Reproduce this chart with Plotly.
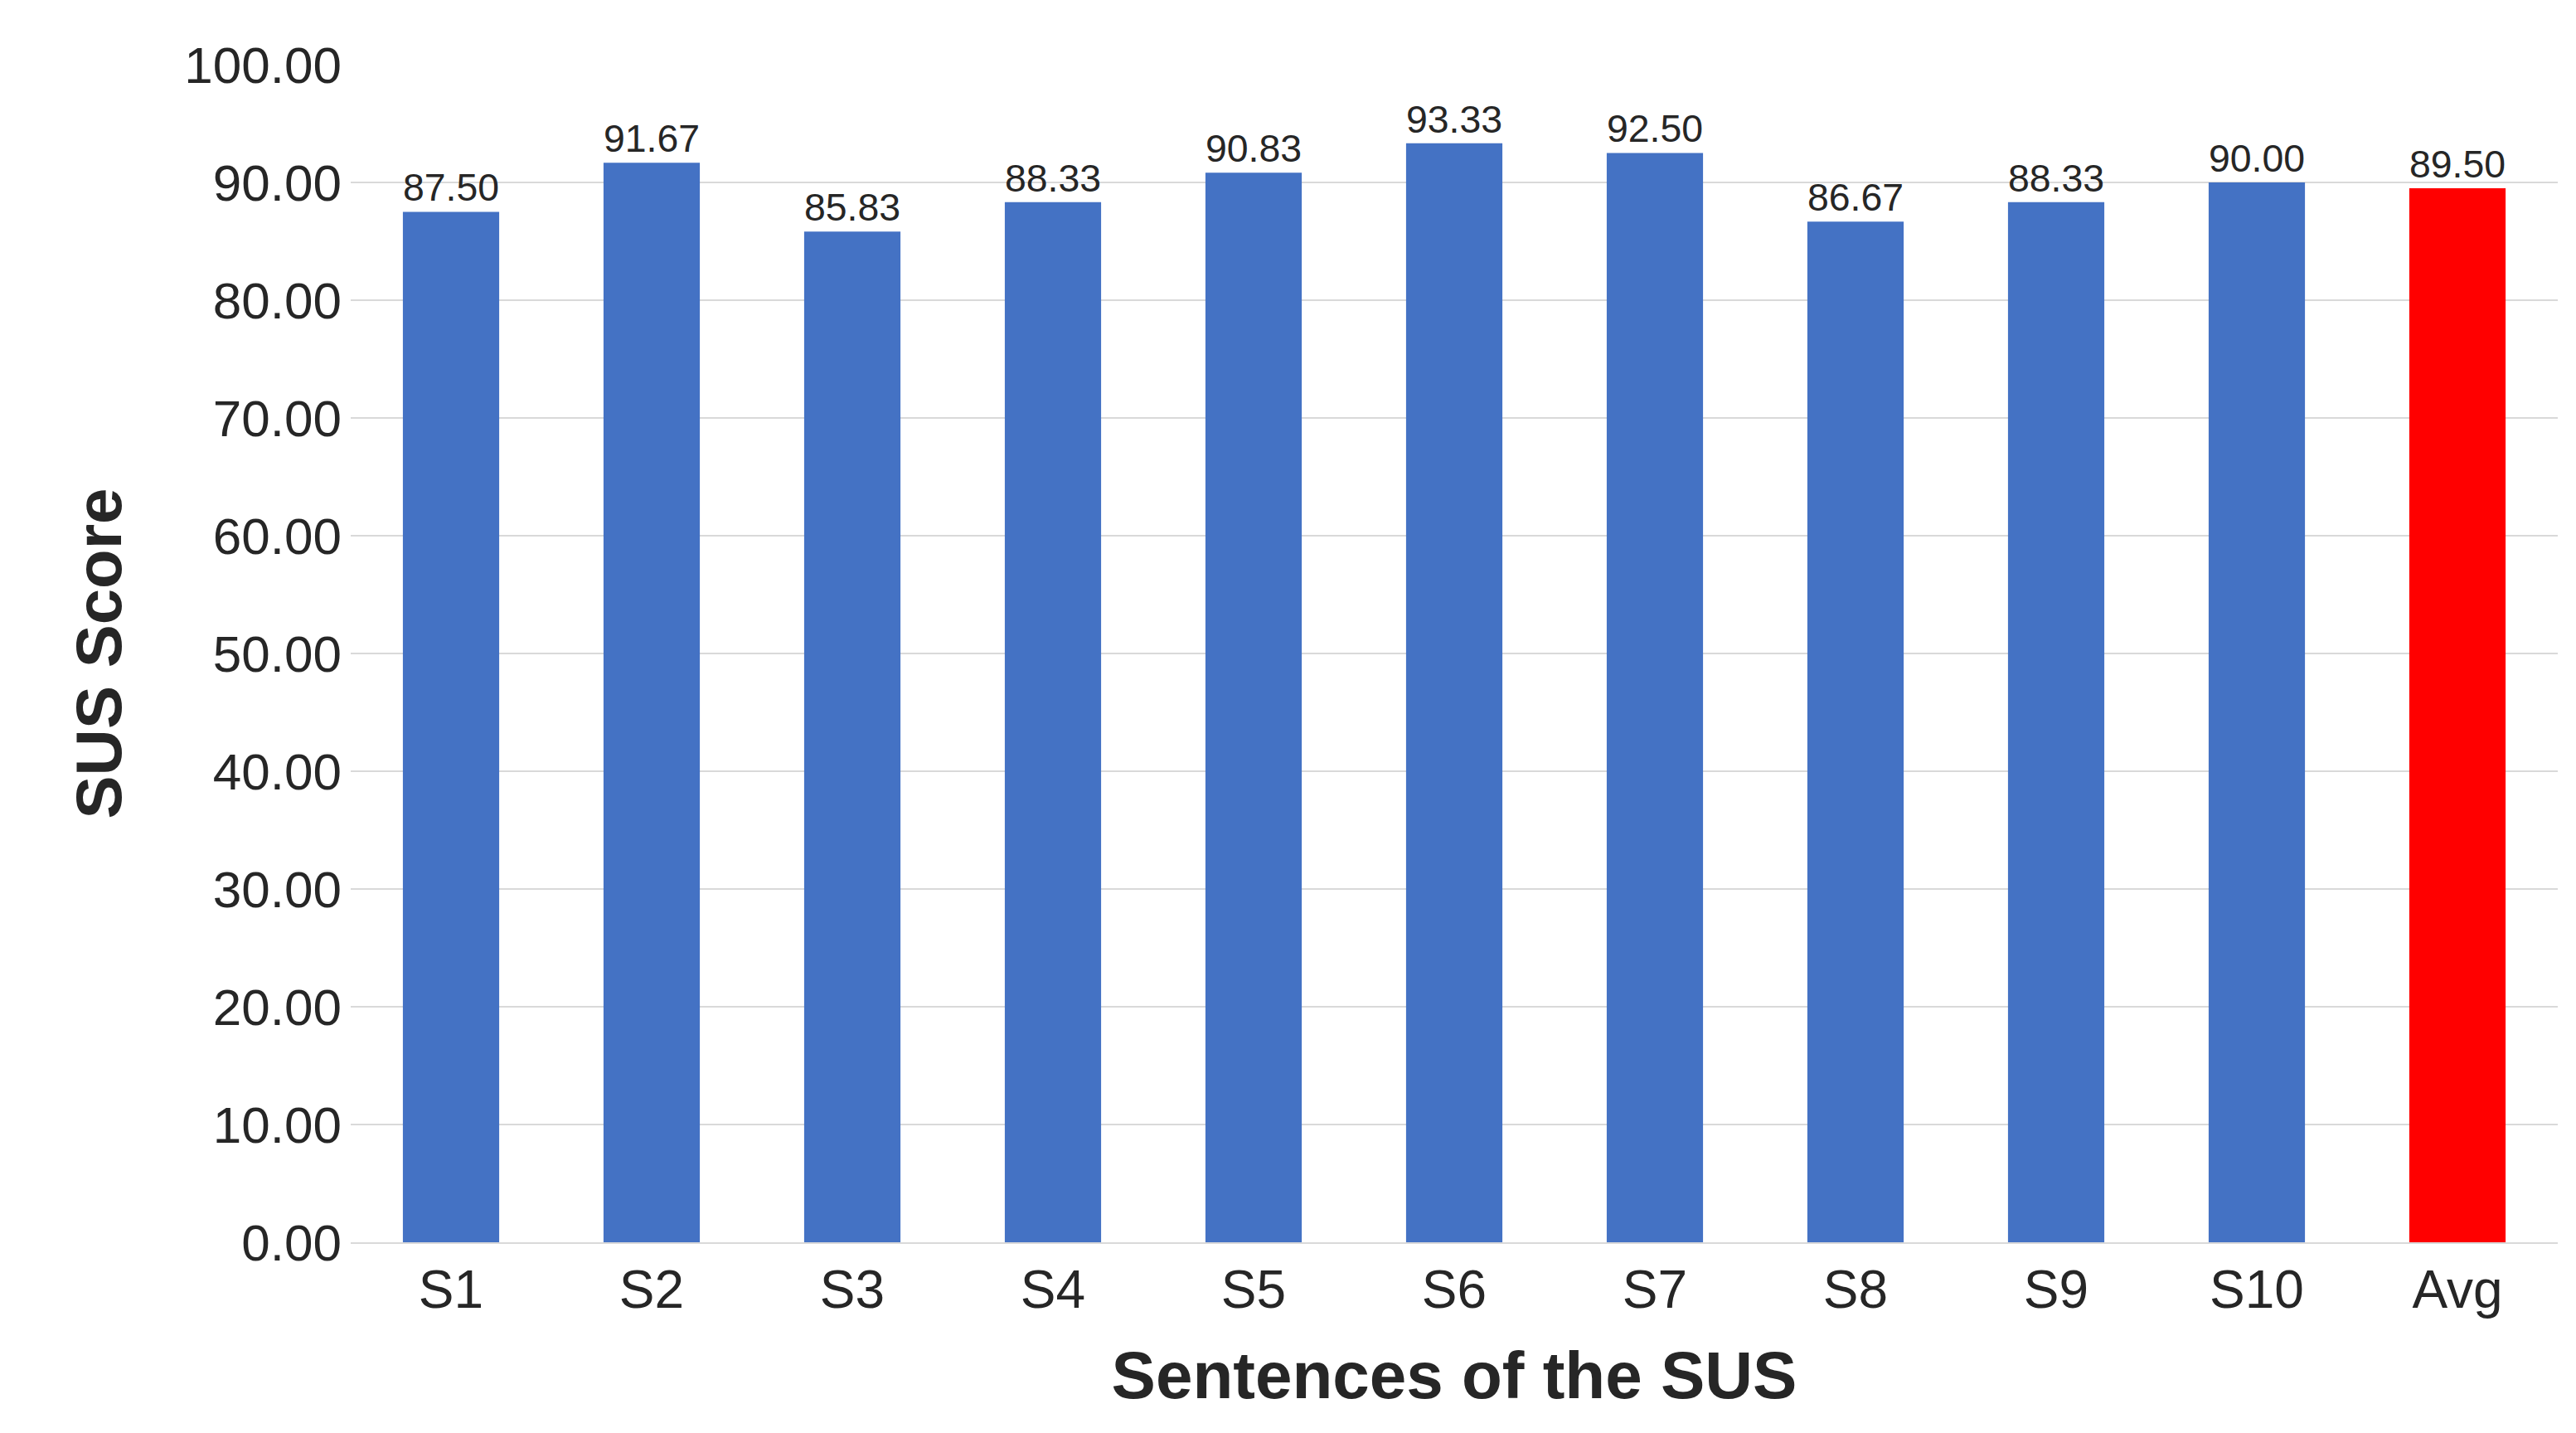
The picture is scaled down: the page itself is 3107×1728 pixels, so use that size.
import plotly.graph_objects as go

categories = ["S1", "S2", "S3", "S4", "S5", "S6", "S7", "S8", "S9", "S10", "Avg"]
scores = [87.50, 91.67, 85.83, 88.33, 90.83, 93.33, 92.50, 86.67, 88.33, 90.00, 89.50]
colors = ["#4472C4"] * 10 + ["#FF0000"]

font = "Liberation Sans, Arial, sans-serif"

fig = go.Figure(go.Bar(
    x=categories, y=scores,
    marker=dict(color=colors, line=dict(width=0)),
    text=[f"{v:.2f}" for v in scores],
    textposition="outside",
    textfont=dict(size=64, color="#262626", family=font),
    cliponaxis=False,
))

fig.update_layout(
    width=3107, height=1728,
    paper_bgcolor="white", plot_bgcolor="white",
    margin=dict(l=415, r=30, t=70, b=238),
    bargap=0.52,
    showlegend=False,
    font=dict(family=font, color="#262626"),
)
fig.update_yaxes(
    range=[0, 100], dtick=10, tickformat=".2f",
    tickfont=dict(size=62), ticklabelstandoff=10,
    gridcolor="#D9D9D9", gridwidth=2, zeroline=False,
    title=dict(text="<b>SUS Score</b>", font=dict(size=78), standoff=50),
)
fig.update_xaxes(
    tickfont=dict(size=64),
    showline=True, linecolor="#D9D9D9", linewidth=2,
    title=dict(text="<b>Sentences of the SUS</b>", font=dict(size=80), standoff=40),
)

fig.write_html("out.html")
